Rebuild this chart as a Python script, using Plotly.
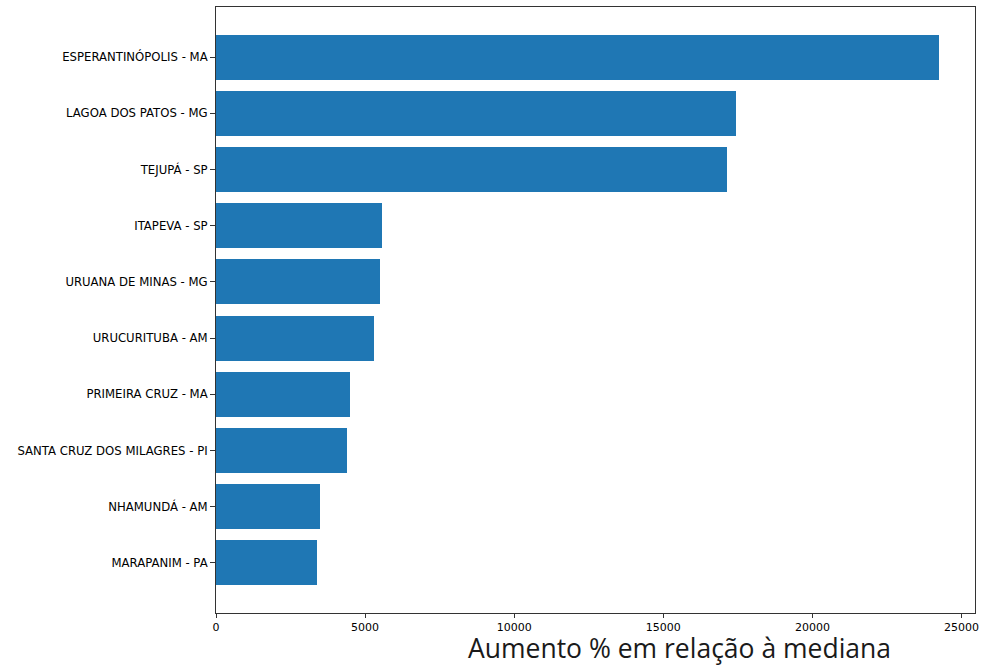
import plotly.graph_objects as go

municipios = [
    "MARAPANIM - PA",
    "NHAMUNDÁ - AM",
    "SANTA CRUZ DOS MILAGRES - PI",
    "PRIMEIRA CRUZ - MA",
    "URUCURITUBA - AM",
    "URUANA DE MINAS - MG",
    "ITAPEVA - SP",
    "TEJUPÁ - SP",
    "LAGOA DOS PATOS - MG",
    "ESPERANTINÓPOLIS - MA",
]
aumento = [3392, 3482, 4397, 4509, 5290, 5513, 5580, 17118, 17420, 24238]
x_ticks = [0, 5000, 10000, 15000, 20000, 25000]
x_label = "Aumento % em relação à mediana"

W, H = 989, 665
L, R, T, B = 216, 975.5, 6.7, 612.7

fig = go.Figure(go.Bar(
    y=list(range(len(municipios))),
    x=aumento,
    orientation="h",
    width=0.8,
    marker=dict(color="#1f77b4", line=dict(width=0)),
))

xmax = max(aumento) * 1.05
fig.update_layout(
    width=W, height=H,
    margin=dict(l=L, r=W - R, t=T, b=H - B, pad=0),
    paper_bgcolor="white", plot_bgcolor="white",
    showlegend=False,
    font=dict(family="DejaVu Sans", size=11.6, color="black"),
    bargap=0,
)
fig.update_xaxes(
    range=[0, xmax],
    tickvals=x_ticks, ticktext=[str(t) for t in x_ticks],
    showgrid=False, zeroline=False,
    showline=True, linecolor="#333", linewidth=1, mirror=True,
    ticks="outside", ticklen=4, tickcolor="#333",
    tickfont=dict(family="DejaVu Sans", size=11, color="black"),
)
fig.update_yaxes(
    range=[-0.89, len(municipios) - 1 + 0.89],
    tickvals=list(range(len(municipios))), ticktext=municipios,
    showgrid=False, zeroline=False,
    showline=True, linecolor="#333", linewidth=1, mirror=True,
    ticks="outside", ticklen=5, tickcolor="#333",
    tickfont=dict(family="DejaVu Sans", size=11.7, color="black"),
)
fig.add_annotation(
    text=x_label, xref="paper", yref="paper",
    x=(466 - L) / (R - L), y=-(647.5 - B) / (B - T),
    xanchor="left", yanchor="middle", showarrow=False,
    font=dict(family="Open Sans", size=26.5, color="#1a1a1a"),
)
fig.write_html(
    "out.html",
    config={"displayModeBar": False},
    post_script="document.body.style.margin='0';document.body.style.overflow='hidden';",
)
